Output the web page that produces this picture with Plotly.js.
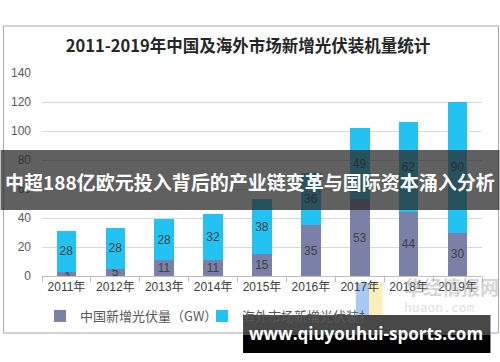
<!DOCTYPE html>
<html>
<head>
<meta charset="utf-8">
<script src="https://cdn.plot.ly/plotly-3.0.1.min.js"></script>
<style>html,body{margin:0;padding:0;background:#fff;}#chart{width:500px;height:362px;}</style>
</head>
<body>
<div id="chart"></div>
<script>
const years = ['2011年','2012年','2013年','2014年','2015年','2016年','2017年','2018年','2019年'];
const chinaGW = [3,5,11,11,15,35,53,44,30];
const overseasGW = [28,28,28,32,38,36,49,62,90];
const seriesNames = ['中国新增光伏量（GW）','海外市场新增光伏装机量（GW）'];
const chartTitle = '2011-2019年中国及海外市场新增光伏装机量统计';
const bannerText = '中超188亿欧元投入背后的产业链变革与国际资本涌入分析';
const siteText = 'www.qiuyouhui-sports.com';

const W = 500, H = 362;
const L = 41.5, R = 17.5, T = 73, B = 86;
const pw = W - L - R, ph = H - T - B;
const px = x => (x - L) / pw;
const py = y => (H - B - y) / ph;

const cjk = '"Liberation Sans", Arial, "Noto Sans CJK SC", sans-serif';
const barText = {family: cjk, size: 12, color: '#404040'};

const traces = [
  {type: 'bar', name: seriesNames[0], x: years, y: chinaGW, text: chinaGW.map(String),
   marker: {color: '#7b80a8'}, textposition: 'inside', insidetextanchor: 'middle',
   textangle: 0, constraintext: 'none', textfont: barText, hoverinfo: 'skip'},
  {type: 'bar', name: seriesNames[1], x: years, y: overseasGW, text: overseasGW.map(String),
   marker: {color: '#22c3f3'}, textposition: 'inside', insidetextanchor: 'middle',
   textangle: 0, constraintext: 'none', textfont: barText, hoverinfo: 'skip'}
];

function ann(x, y, text, font) {
  return {xref: 'paper', yref: 'paper', x: px(x), y: py(y), xanchor: 'center', yanchor: 'middle',
          text: text, showarrow: false, font: font};
}

const layout = {
  width: W, height: H,
  margin: {l: L, r: R, t: T, b: B, pad: 0},
  paper_bgcolor: '#ffffff', plot_bgcolor: '#ffffff',
  barmode: 'stack', bargap: 0.6,
  title: {text: chartTitle, x: 0.496, xref: 'container', xanchor: 'center',
          y: 1 - 46 / H, yref: 'container', yanchor: 'middle',
          font: {family: '"Noto Sans CJK SC", sans-serif', size: 16.5, color: '#262626', weight: 'bold'}},
  xaxis: {type: 'category', showgrid: false, showline: true, linecolor: '#bfbfbf', linewidth: 1,
          ticks: 'outside', tickson: 'boundaries', ticklen: 5, tickcolor: '#bfbfbf',
          tickfont: {family: cjk, size: 12, color: '#404040'}, fixedrange: true},
  yaxis: {range: [0, 140], dtick: 20, showgrid: true, gridcolor: '#d9d9d9', gridwidth: 1,
          zeroline: false, showline: false, ticks: '', ticklabelstandoff: 10,
          tickfont: {family: cjk, size: 12, color: '#595959'}, fixedrange: true},
  showlegend: true,
  legend: {orientation: 'h', xref: 'container', yref: 'container', x: 0.08, xanchor: 'left',
           y: 1 - 316 / H, yanchor: 'middle', entrywidth: 117, entrywidthmode: 'pixels',
           itemwidth: 30, traceorder: 'normal',
           font: {family: '"Noto Sans CJK SC", sans-serif', size: 13, color: '#595959'},
           bgcolor: 'rgba(0,0,0,0)'},
  shapes: [
    {type: 'rect', xref: 'paper', yref: 'paper', x0: px(3), x1: px(499), y0: py(333), y1: py(26),
     line: {color: '#a6a6a6', width: 1}, fillcolor: 'rgba(0,0,0,0)', layer: 'below'},
    {type: 'rect', xref: 'paper', yref: 'paper', x0: px(356), x1: px(369.5), y0: py(316), y1: py(283),
     line: {width: 0}, fillcolor: '#a9c9f2', layer: 'below'},
    {type: 'rect', xref: 'paper', yref: 'paper', x0: px(369.5), x1: px(383), y0: py(316), y1: py(283),
     line: {width: 0}, fillcolor: '#fbf0bb', layer: 'below'},
    {type: 'rect', xref: 'paper', yref: 'paper', x0: px(0), x1: px(500), y0: py(210), y1: py(150),
     line: {width: 0}, fillcolor: 'rgba(40,40,40,0.74)', layer: 'above'},
    {type: 'rect', xref: 'paper', yref: 'paper', x0: px(243), x1: px(491), y0: py(335), y1: py(315),
     line: {width: 0}, fillcolor: 'rgba(40,40,40,0.85)', layer: 'above'},
    {type: 'rect', xref: 'paper', yref: 'paper', x0: px(243), x1: px(491), y0: py(353), y1: py(335),
     line: {width: 0}, fillcolor: '#000000', layer: 'above'}
  ],
  annotations: [
    ann(452, 286, '华经情报网', {family: '"Noto Sans CJK SC", sans-serif', size: 19, color: 'rgba(160,160,160,0.45)', weight: 'bold'}),
    ann(440, 307, 'huaon.com', {family: '"DejaVu Sans Mono", monospace', size: 13, color: 'rgba(180,180,180,0.45)'}),
    ann(250, 181, bannerText, {family: '"Noto Sans CJK SC", sans-serif', size: 19, color: '#ffffff', weight: 'bold'}),
    ann(366, 333, siteText, {family: '"Open Sans", "DejaVu Sans", sans-serif', size: 17, color: '#ffffff', weight: 'bold'})
  ]
};

Plotly.newPlot('chart', traces, layout, {displayModeBar: false, staticPlot: true});
</script>
</body>
</html>
